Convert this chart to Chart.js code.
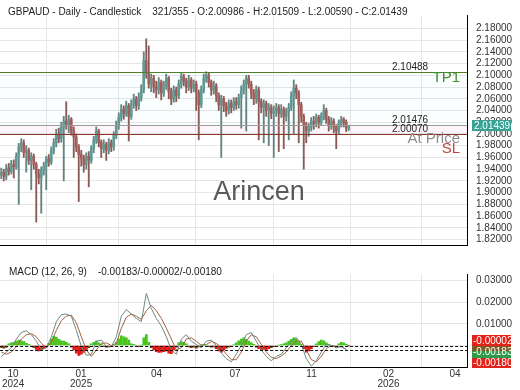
<!DOCTYPE html>
<html>
<head>
<meta charset="utf-8">
<script src="https://cdn.jsdelivr.net/npm/chart.js@4"></script>
<style>
  html, body { margin: 0; padding: 0; background: #fff; }
  #wrap { position: relative; width: 520px; height: 390px; }
  canvas { position: absolute; left: 0; }
</style>
</head>
<body>
<div id="wrap">
  <canvas id="priceChart" width="520" height="260" style="top:0"></canvas>
  <canvas id="macdChart" width="520" height="131" style="top:259px"></canvas>
</div>
<script>
// daily candles (one entry per candle)
const opens = [
  1.930, 1.935, 1.928, 1.942, 1.936, 1.948, 1.944, 1.962, 1.978, 1.985,
  1.968, 1.972, 1.955, 1.962, 1.948, 1.932, 1.925, 1.938, 1.945, 1.958,
  1.952, 1.972, 1.985, 2.000, 1.992, 2.012, 2.022, 2.015, 2.025, 2.005,
  1.995, 1.978, 1.965, 1.958, 1.948, 1.962, 1.955, 1.975, 1.990, 2.005,
  1.985, 1.975, 1.982, 1.972, 1.985, 1.978, 1.998, 2.015, 2.028, 2.042,
  2.035, 2.048, 2.030, 2.050, 2.060, 2.048, 2.062, 2.075, 2.125, 2.105,
  2.085, 2.095, 2.080, 2.075, 2.088, 2.070, 2.082, 2.095, 2.072, 2.060,
  2.075, 2.065, 2.085, 2.098, 2.090, 2.080, 2.092, 2.078, 2.085, 2.070,
  2.050, 2.075, 2.095, 2.100, 2.088, 2.075, 2.082, 2.065, 2.050, 2.060,
  2.048, 2.040, 2.052, 2.045, 2.055, 2.050, 2.062, 2.075, 2.085, 2.095,
  2.085, 2.070, 2.060, 2.075, 2.055, 2.045, 2.052, 2.040, 2.045, 2.035,
  2.040, 2.045, 2.035, 2.042, 2.030, 2.038, 2.045, 2.065, 2.078, 2.070,
  2.050, 2.030, 2.015, 2.005, 2.012, 2.022, 2.018, 2.028, 2.020, 2.030,
  2.040, 2.025, 2.015, 2.022, 2.012, 2.005, 2.018, 2.025, 2.020, 2.00986
];
const highs = [
  1.942, 1.940, 1.948, 1.950, 1.955, 1.956, 1.968, 1.984, 1.992, 1.990,
  1.980, 1.976, 1.968, 1.966, 1.952, 1.940, 1.944, 1.952, 1.962, 1.965,
  1.978, 1.992, 2.008, 2.010, 2.020, 2.030, 2.055, 2.032, 2.028, 2.012,
  2.000, 1.982, 1.972, 1.964, 1.968, 1.970, 1.980, 1.996, 2.012, 2.008,
  1.990, 1.990, 1.986, 1.992, 1.990, 2.004, 2.022, 2.036, 2.050, 2.048,
  2.056, 2.052, 2.058, 2.068, 2.064, 2.070, 2.084, 2.140, 2.162, 2.150,
  2.102, 2.100, 2.090, 2.096, 2.092, 2.090, 2.102, 2.098, 2.078, 2.082,
  2.080, 2.092, 2.104, 2.102, 2.095, 2.100, 2.096, 2.092, 2.090, 2.075,
  2.082, 2.102, 2.106, 2.104, 2.092, 2.090, 2.086, 2.070, 2.066, 2.064,
  2.054, 2.058, 2.058, 2.062, 2.062, 2.068, 2.082, 2.092, 2.100, 2.100,
  2.090, 2.076, 2.082, 2.080, 2.060, 2.058, 2.056, 2.052, 2.050, 2.048,
  2.052, 2.050, 2.050, 2.046, 2.044, 2.052, 2.072, 2.092, 2.084, 2.074,
  2.054, 2.034, 2.020, 2.018, 2.028, 2.030, 2.034, 2.032, 2.036, 2.050,
  2.044, 2.030, 2.028, 2.026, 2.016, 2.024, 2.030, 2.028, 2.024, 2.01509
];
const lows = [
  1.924, 1.920, 1.922, 1.930, 1.932, 1.925, 1.940, 1.880, 1.970, 1.960,
  1.935, 1.948, 1.905, 1.940, 1.850, 1.915, 1.865, 1.930, 1.905, 1.945,
  1.948, 1.966, 1.978, 1.985, 1.986, 1.920, 2.008, 2.002, 1.998, 1.960,
  1.970, 1.885, 1.945, 1.935, 1.940, 1.910, 1.950, 1.968, 1.984, 1.978,
  1.960, 1.968, 1.955, 1.966, 1.970, 1.972, 1.992, 2.008, 2.022, 2.025,
  2.030, 1.988, 2.025, 2.044, 2.040, 2.042, 2.056, 2.070, 2.095, 2.078,
  2.072, 2.070, 2.062, 2.068, 2.058, 2.064, 2.076, 2.060, 2.050, 2.054,
  2.055, 2.060, 2.078, 2.082, 2.070, 2.074, 2.070, 2.072, 2.040, 1.990,
  2.045, 2.070, 2.088, 2.080, 2.066, 2.068, 2.055, 2.040, 1.960, 2.038,
  2.030, 2.034, 2.036, 2.040, 2.042, 2.044, 2.010, 2.068, 2.005, 2.078,
  2.060, 2.050, 2.052, 1.990, 2.036, 1.985, 2.030, 1.980, 2.026, 1.960,
  2.030, 1.970, 2.028, 1.975, 2.022, 1.990, 2.040, 2.000, 2.060, 1.985,
  2.020, 1.940, 1.985, 1.996, 2.005, 2.008, 2.012, 2.010, 2.015, 2.024,
  2.018, 2.005, 2.008, 2.002, 1.975, 2.000, 2.012, 2.012, 2.004, 2.0059
];
const closes = [
  1.935, 1.928, 1.942, 1.936, 1.948, 1.944, 1.962, 1.978, 1.985, 1.968,
  1.972, 1.955, 1.962, 1.948, 1.932, 1.925, 1.938, 1.945, 1.958, 1.952,
  1.972, 1.985, 2.000, 1.992, 2.012, 2.022, 2.015, 2.025, 2.005, 1.995,
  1.978, 1.965, 1.958, 1.948, 1.962, 1.955, 1.975, 1.990, 2.005, 1.985,
  1.975, 1.982, 1.972, 1.985, 1.978, 1.998, 2.015, 2.028, 2.042, 2.035,
  2.048, 2.030, 2.050, 2.060, 2.048, 2.062, 2.075, 2.125, 2.105, 2.085,
  2.095, 2.080, 2.075, 2.088, 2.070, 2.082, 2.095, 2.072, 2.060, 2.075,
  2.065, 2.085, 2.098, 2.090, 2.080, 2.092, 2.078, 2.085, 2.070, 2.050,
  2.075, 2.095, 2.100, 2.088, 2.075, 2.082, 2.065, 2.050, 2.060, 2.048,
  2.040, 2.052, 2.045, 2.055, 2.050, 2.062, 2.075, 2.085, 2.095, 2.085,
  2.070, 2.060, 2.075, 2.055, 2.045, 2.052, 2.040, 2.045, 2.035, 2.040,
  2.045, 2.035, 2.042, 2.030, 2.038, 2.045, 2.065, 2.078, 2.070, 2.050,
  2.030, 2.015, 2.005, 2.012, 2.022, 2.018, 2.028, 2.020, 2.030, 2.040,
  2.025, 2.015, 2.022, 2.012, 2.005, 2.018, 2.025, 2.020, 2.010, 2.01439
];

// MACD histogram, one per candle
const histogram = [
  -0.0010, -0.0012, -0.0008, 0.0008, 0.0012, 0.0015, 0.0020, 0.0025, 0.0022, 0.0018,
  0.0010, 0.0005, -0.0003, -0.0010, -0.0018, -0.0025, -0.0022, -0.0015, -0.0008, 0.0010,
  0.0030, 0.0042, 0.0038, 0.0028, 0.0022, 0.0020, 0.0015, 0.0008, -0.0008, -0.0020,
  -0.0035, -0.0045, -0.0040, -0.0032, -0.0020, -0.0010, 0.0008, 0.0015, 0.0020, 0.0012,
  0.0006, -0.0005, -0.0008, -0.0006, -0.0004, -0.0002, 0.0015, 0.0030, 0.0045, 0.0040,
  0.0035, 0.0025, 0.0008, 0.0005, -0.0003, -0.0005, 0.0002, 0.0035, 0.0050, 0.0015,
  -0.0010, -0.0020, -0.0028, -0.0032, -0.0030, -0.0028, -0.0025, -0.0035, -0.0038, -0.0020,
  -0.0008, 0.0012, 0.0018, 0.0015, 0.0008, -0.0006, -0.0010, -0.0008, -0.0012, -0.0006,
  0.0004, 0.0006, 0.0002, -0.0005, -0.0008, -0.0006, -0.0015, -0.0025, -0.0030, -0.0020,
  -0.0012, -0.0008, -0.0004, 0.0003, 0.0012, 0.0022, 0.0030, 0.0035, 0.0028, 0.0020,
  0.0012, 0.0005, -0.0008, -0.0015, -0.0020, -0.0018, -0.0020, -0.0015, -0.0010, -0.0005,
  -0.0003, 0.0002, 0.0004, 0.0008, 0.0012, 0.0020, 0.0028, 0.0035, 0.0030, 0.0015,
  0.0005, -0.0015, -0.0030, -0.0025, -0.0015, -0.0005, 0.0008, 0.0018, 0.0025, 0.0022,
  0.0012, 0.0005, -0.0003, -0.0005, -0.0002, 0.0008, 0.0015, 0.0012, 0.0005, -0.00002
];

// MACD and signal lines, one point every 2 candles
const macdLine = [
  -0.005, -0.003, -0.001, 0.003, 0.006, 0.0068, 0.005, 0.002, -0.002, -0.001,
  0.004, 0.011, 0.0142, 0.0145, 0.0135, 0.007, -0.0005, -0.0045, -0.004, 0.002,
  0.0025, -0.0005, -0.0005, 0.004, 0.0135, 0.0165, 0.0145, 0.0125, 0.011, 0.024,
  0.017, 0.0125, 0.009, 0.004, -0.002, -0.004, 0.003, 0.005, 0.002, 0.0005,
  -0.001, 0.002, 0.0025, 0.0, -0.0035, -0.006, -0.0075, -0.004, 0.0, 0.005,
  0.006, 0.002, -0.002, -0.005, -0.007, -0.005, -0.004, -0.001, 0.002, 0.0037,
  0.0005, -0.006, -0.0095, -0.007, -0.003, 0.0005, 0.0, -0.001, -0.0005, -0.00183
];
const signalLine = [
  -0.003, -0.004, -0.003, -0.0005, 0.003, 0.005, 0.0055, 0.004, 0.001, -0.001,
  0.0015, 0.007, 0.0115, 0.0135, 0.014, 0.0105, 0.004, -0.002, -0.005, -0.002,
  0.001, 0.0012, 0.0, 0.001, 0.008, 0.013, 0.0145, 0.0135, 0.012, 0.016,
  0.0185, 0.016, 0.0125, 0.008, 0.003, -0.002, -0.001, 0.003, 0.0035, 0.002,
  0.0, 0.0005, 0.0018, 0.001, -0.001, -0.004, -0.0065, -0.0065, -0.003, 0.002,
  0.005, 0.004, 0.0005, -0.003, -0.0055, -0.006, -0.0048, -0.003, 0.0, 0.002,
  0.002, -0.002, -0.0065, -0.0075, -0.005, -0.0015, 0.0, -0.0005, -0.0005, -0.0018
];

// axis ticks
const monthIdx = [4.7, 31.9, 62.1, 93.5, 124.1, 154.9, 181.5];
const monthLabels = [['10', '2024'], ['01', '2025'], ['04'], ['07'], ['11'], ['02', '2026'], ['04']];
const priceTicks = [1.82, 1.84, 1.86, 1.88, 1.90, 1.92, 1.94, 1.96, 1.98, 2.00,
  2.02, 2.04, 2.06, 2.08, 2.10, 2.12, 2.14, 2.16, 2.18];
const macdTicks = [0, 0.01, 0.02, 0.03];

// trade levels
const tpLevel = 2.10488;
const entryLevel = 2.01476;
const slLevel = 2.00070;

const titleText = 'GBPAUD - Daily - Candlestick    321/355 - O:2.00986 - H:2.01509 - L:2.00590 - C:2.01439';
const macdTitle = 'MACD (12, 26, 9)    -0.00183/-0.00002/-0.00180';
const macdValues = { hist: -0.00002, macd: -0.00183, signal: -0.00180 };

const X_MIN = -0.5, X_MAX = 186.3;
const FONT = "'Liberation Sans', Arial, sans-serif";
Chart.defaults.font.family = FONT;
Chart.defaults.font.size = 10;
Chart.defaults.color = '#333';

const upBody = '#5f9b96', downBody = '#a65c58';
const upWick = '#62847f', downWick = '#8a5a57';
const isUp = closes.map((c, i) => c >= opens[i]);

const xScaleBase = {
  type: 'linear', min: X_MIN, max: X_MAX, offset: false,
  afterBuildTicks: s => { s.ticks = monthIdx.map(v => ({ value: v })); },
  grid: { color: '#e6e6e6', drawTicks: false }
};

// ---------- price panel ----------
const priceOverlay = {
  id: 'priceOverlay',
  beforeDatasetsDraw(chart) {
    const { ctx, chartArea: a, scales: { y } } = chart;
    const tpY = y.getPixelForValue(tpLevel);
    const enY = y.getPixelForValue(entryLevel);
    const slY = y.getPixelForValue(slLevel);
    ctx.save();
    ctx.fillStyle = 'rgba(0, 200, 200, 0.015)';
    ctx.fillRect(a.left, tpY, a.width, enY - tpY);
    ctx.fillStyle = 'rgba(255, 60, 130, 0.05)';
    ctx.fillRect(a.left, enY, a.width, slY - enY);
    ctx.restore();
  },
  afterDatasetsDraw(chart) {
    const { ctx, chartArea: a, scales: { y } } = chart;
    const levels = [
      [tpLevel, '#4f7f27'],
      [entryLevel, '#9a9a9a'],
      [slLevel, '#8a3a2c']
    ];
    ctx.save();
    ctx.lineWidth = 1;
    levels.forEach(([v, col]) => {
      const py = Math.round(y.getPixelForValue(v)) + 0.5;
      ctx.strokeStyle = col;
      ctx.beginPath();
      ctx.moveTo(a.left, py);
      ctx.lineTo(a.right, py);
      ctx.stroke();
      ctx.fillStyle = '#222';
      ctx.font = '10px ' + FONT;
      ctx.textAlign = 'left';
      ctx.textBaseline = 'bottom';
      ctx.fillText(v.toFixed(5), 392, py);
    });

    ctx.textAlign = 'right';
    ctx.textBaseline = 'middle';
    ctx.font = '15px ' + FONT;
    ctx.fillStyle = '#3f8f2f';
    ctx.fillText('TP1', 460, 78);
    ctx.fillStyle = '#8c8c8c';
    ctx.fillText('At Price', 460, 139);
    ctx.fillStyle = '#c6443a';
    ctx.fillText('SL', 460, 149);

    // watermark
    ctx.textAlign = 'center';
    ctx.font = '27px ' + FONT;
    ctx.fillStyle = '#5a5a5a';
    ctx.fillText('Arincen', 259, 193);
    ctx.restore();
  },
  afterDraw(chart) {
    const { ctx, scales: { y } } = chart;
    ctx.save();
    ctx.font = '10px ' + FONT;
    ctx.fillStyle = '#222';
    ctx.textAlign = 'left';
    ctx.textBaseline = 'middle';
    ctx.fillText(titleText, 8, 12);

    const last = closes[closes.length - 1];
    const py = y.getPixelForValue(last);
    ctx.fillStyle = '#36a194';
    ctx.fillRect(472, py - 5.5, 39, 11);
    ctx.fillStyle = '#fff';
    ctx.fillText(last.toFixed(5), 474, py + 0.5);
    ctx.restore();
  }
};

new Chart(document.getElementById('priceChart'), {
  type: 'bar',
  data: {
    datasets: [
      {
        label: 'body',
        data: opens.map((o, i) => ({ x: i, y: [o, closes[i]] })),
        backgroundColor: ctx => isUp[ctx.dataIndex] ? upBody : downBody,
        barThickness: 2,
        grouped: false,
        order: 0
      },
      {
        label: 'wick',
        data: highs.map((h, i) => ({ x: i, y: [lows[i], h] })),
        backgroundColor: ctx => isUp[ctx.dataIndex] ? upWick : downWick,
        barThickness: 1.2,
        grouped: false,
        order: 1
      }
    ]
  },
  options: {
    responsive: false,
    animation: false,
    devicePixelRatio: 1,
    events: [],
    layout: { padding: 0 },
    plugins: { legend: { display: false }, tooltip: { enabled: false } },
    scales: {
      x: Object.assign({}, xScaleBase, {
        ticks: { display: false },
        border: { display: true, color: '#000' },
        afterFit: s => { s.height = 1; }
      }),
      y: {
        position: 'right', min: 1.8109, max: 2.2027,
        afterBuildTicks: s => { s.ticks = priceTicks.map(v => ({ value: v })); },
        ticks: { padding: 9, color: '#333', autoSkip: false, callback: v => v.toFixed(5) },
        grid: { color: '#e6e6e6', drawTicks: false },
        border: { color: '#000' },
        afterFit: s => { s.width = 53; }
      }
    }
  },
  plugins: [priceOverlay]
});

// ---------- MACD panel ----------
function histColor(v) {
  if (v >= 0) return '#4cc41a';
  return v > -0.0013 ? '#7a4b14' : '#e3190f';
}
function histShade(v) {
  return v >= 0 ? 'rgba(110, 250, 230, 0.4)' : 'rgba(255, 140, 200, 0.4)';
}

const macdOverlay = {
  id: 'macdOverlay',
  afterDatasetsDraw(chart) {
    const { ctx, chartArea: a, scales: { y } } = chart;
    ctx.save();
    ctx.strokeStyle = '#111';
    ctx.lineWidth = 1.2;
    ctx.setLineDash([3, 2]);
    [macdValues.hist, macdValues.macd].forEach(v => {
      const py = Math.round(y.getPixelForValue(v)) + 0.5;
      ctx.beginPath();
      ctx.moveTo(a.left, py);
      ctx.lineTo(a.right, py);
      ctx.stroke();
    });
    ctx.restore();
  },
  afterDraw(chart) {
    const { ctx } = chart;
    ctx.save();
    ctx.font = '10px ' + FONT;
    ctx.textBaseline = 'middle';
    ctx.textAlign = 'left';
    ctx.fillStyle = '#222';
    ctx.fillText(macdTitle, 9, 13);

    // last value boxes
    const bx = 472, bw = 39;
    ctx.fillStyle = '#e2231a';
    ctx.fillRect(bx, 76, bw, 11);
    ctx.fillStyle = '#7b5b1f';
    ctx.fillRect(bx, 87, bw, 5);
    ctx.fillStyle = '#2e9b4b';
    ctx.fillRect(bx, 92, bw, 7);
    ctx.fillStyle = '#e2231a';
    ctx.fillRect(bx, 99, bw, 10);
    ctx.fillStyle = '#fff';
    ctx.fillText(macdValues.hist.toFixed(5), bx + 1, 82);
    ctx.fillText(macdValues.macd.toFixed(5), bx + 1, 93);
    ctx.fillText(macdValues.signal.toFixed(5), bx + 1, 104);
    ctx.restore();
  }
};

new Chart(document.getElementById('macdChart'), {
  type: 'bar',
  data: {
    datasets: [
      {
        type: 'line', label: 'MACD',
        data: macdLine.map((v, i) => ({ x: i * 2, y: v })),
        borderColor: '#6c8a84', borderWidth: 1, pointRadius: 0, tension: 0,
        order: 0
      },
      {
        type: 'line', label: 'Signal',
        data: signalLine.map((v, i) => ({ x: i * 2, y: v })),
        borderColor: '#a5613f', borderWidth: 1, pointRadius: 0, tension: 0,
        order: 1
      },
      {
        label: 'Histogram',
        data: histogram.map((v, i) => ({ x: i, y: v })),
        backgroundColor: ctx => histColor(histogram[ctx.dataIndex]),
        barThickness: 2, grouped: false, order: 2
      },
      {
        label: 'shade',
        data: histogram.map((v, i) => ({ x: i, y: v })),
        backgroundColor: ctx => histShade(histogram[ctx.dataIndex]),
        barThickness: 3, grouped: false, order: 3
      }
    ]
  },
  options: {
    responsive: false,
    animation: false,
    devicePixelRatio: 1,
    events: [],
    layout: { padding: { top: 1, left: 0, right: 0, bottom: 0 } },
    plugins: { legend: { display: false }, tooltip: { enabled: false } },
    scales: {
      x: Object.assign({}, xScaleBase, {
        ticks: {
          padding: 2, autoSkip: false, maxRotation: 0, color: '#333',
          font: { size: 10, lineHeight: 1 },
          callback: (v, i) => monthLabels[i]
        },
        border: { display: true, color: '#000' },
        afterFit: s => { s.height = 23; }
      }),
      y: {
        position: 'right', min: -0.00988, max: 0.03292,
        afterBuildTicks: s => { s.ticks = macdTicks.map(v => ({ value: v })); },
        ticks: { padding: 9, color: '#333', autoSkip: false, callback: v => v === 0 ? '' : v.toFixed(5) },
        grid: { color: '#e6e6e6', drawTicks: false },
        border: { color: '#000' },
        afterFit: s => { s.width = 53; }
      }
    }
  },
  plugins: [macdOverlay]
});
</script>
</body>
</html>
